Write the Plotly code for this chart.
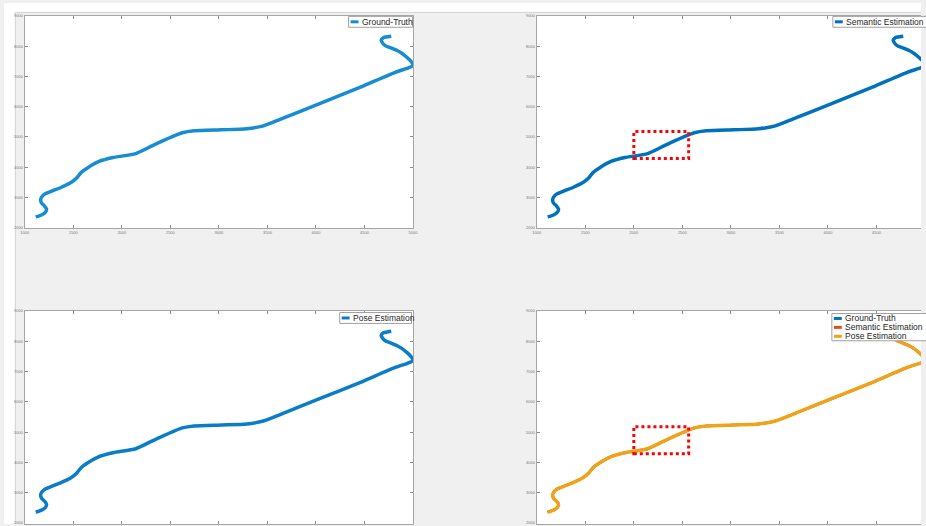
import plotly.graph_objects as go

W, H = 926, 526

# ---- data ----
gt_x = [1112, 1173, 1214, 1224, 1204, 1173, 1163, 1173, 1204, 1276, 1378, 1480, 1531, 1582, 1653,
        1765, 1908, 2143, 2316, 2520, 2622, 2745, 3031, 3286, 3459, 3643, 4051, 4459, 4816, 4939,
        4990, 5000, 4980, 4939, 4888, 4837, 4765, 4714, 4684, 4673, 4694, 4745, 4776]
gt_y = [2360, 2425, 2523, 2621, 2720, 2818, 2916, 3014, 3112, 3210, 3341, 3505, 3636, 3832, 3995,
        4192, 4322, 4453, 4715, 5009, 5140, 5206, 5238, 5271, 5369, 5598, 6121, 6645, 7136, 7266,
        7340, 7400, 7495, 7626, 7757, 7855, 7953, 8019, 8117, 8199, 8280, 8313, 8330]
sem_x = list(gt_x)
sem_y = list(gt_y)
pose_x = list(gt_x)
pose_y = list(gt_y)

x_ticks = [1000, 1500, 2000, 2500, 3000, 3500, 4000, 4500, 5000]
y_ticks = [2000, 3000, 4000, 5000, 6000, 7000, 8000, 9000]
zoom_box_x = [2000, 2565]
zoom_box_y = [4290, 5180]

names = ["Ground-Truth", "Semantic Estimation", "Pose Estimation"]


def px(x):
    return x / W


def py(y):
    return 1 - y / H


fig = go.Figure()

LW = 3.5
fig.add_trace(go.Scatter(x=gt_x, y=gt_y, mode="lines", name=names[0], xaxis="x", yaxis="y",
                         line=dict(color="#168CD2", width=LW, shape="spline", smoothing=0.6)))
fig.add_trace(go.Scatter(x=sem_x, y=sem_y, mode="lines", name=names[1], xaxis="x2", yaxis="y2",
                         line=dict(color="#0072BD", width=LW, shape="spline", smoothing=0.6)))
fig.add_trace(go.Scatter(x=pose_x, y=pose_y, mode="lines", name=names[2], xaxis="x3", yaxis="y3",
                         line=dict(color="#0A7DC8", width=LW, shape="spline", smoothing=0.6)))
fig.add_trace(go.Scatter(x=gt_x, y=gt_y, mode="lines", name=names[0], xaxis="x4", yaxis="y4",
                         line=dict(color="#0072BD", width=2.5, shape="spline", smoothing=0.6)))
fig.add_trace(go.Scatter(x=sem_x, y=sem_y, mode="lines", name=names[1], xaxis="x4", yaxis="y4",
                         line=dict(color="#D95319", width=2.5, shape="spline", smoothing=0.6)))
fig.add_trace(go.Scatter(x=pose_x, y=pose_y, mode="lines", name=names[2], xaxis="x4", yaxis="y4",
                         line=dict(color="#F0A31A", width=LW, shape="spline", smoothing=0.6)))

axis_common = dict(showgrid=False, zeroline=False, showline=True, linecolor="#a6a6a6", linewidth=1,
                   ticks="inside", ticklen=3, tickcolor="#8a8a8a", tickwidth=1,
                   tickfont=dict(size=4, color="#777777", family="Liberation Sans"))

right_xmax = 1000 + (W - 538) / 392 * 4000
bottom_ymin = 9000 - (H - 311) * 7000 / 214

lay = {}
lay["xaxis"] = dict(axis_common, domain=[px(21), px(413)], range=[1000, 5000], anchor="y",
                    tickvals=x_ticks, mirror="ticks")
lay["yaxis"] = dict(axis_common, domain=[py(227), py(13)], range=[2000, 9000], anchor="x",
                    tickvals=y_ticks, mirror="ticks")
lay["xaxis2"] = dict(axis_common, domain=[px(538), 1], range=[1000, right_xmax], anchor="y2",
                     tickvals=x_ticks, mirror="ticks")
lay["yaxis2"] = dict(axis_common, domain=[py(227), py(13)], range=[2000, 9000], anchor="x2",
                     tickvals=y_ticks, mirror=False)
lay["xaxis3"] = dict(axis_common, domain=[px(21), px(413)], range=[1000, 5000], anchor="y3",
                     tickvals=x_ticks, mirror="ticks", showticklabels=False)
lay["yaxis3"] = dict(axis_common, domain=[0, py(311)], range=[bottom_ymin, 9000], anchor="x3",
                     tickvals=y_ticks, mirror="ticks")
lay["xaxis4"] = dict(axis_common, domain=[px(538), 1], range=[1000, right_xmax], anchor="y4",
                     tickvals=x_ticks, mirror="ticks", showticklabels=False)
lay["yaxis4"] = dict(axis_common, domain=[0, py(311)], range=[bottom_ymin, 9000], anchor="x4",
                     tickvals=y_ticks, mirror=False)

shapes = []
shapes.append(dict(type="rect", xref="paper", yref="paper", x0=0, x1=1, y0=py(9), y1=1,
                   fillcolor="white", line=dict(width=0), layer="below"))
shapes.append(dict(type="rect", xref="paper", yref="paper", x0=0, x1=px(11), y0=0, y1=1,
                   fillcolor="white", line=dict(width=0), layer="below"))
shapes.append(dict(type="line", xref="paper", yref="paper", x0=px(11), x1=1, y0=py(9.5), y1=py(9.5),
                   line=dict(color="#d4d4d4", width=1), layer="below"))
shapes.append(dict(type="line", xref="paper", yref="paper", x0=px(11.5), x1=px(11.5), y0=0, y1=py(9.5),
                   line=dict(color="#d4d4d4", width=1), layer="below"))

for xa, ya in [("x2", "y2"), ("x4", "y4")]:
    shapes.append(dict(type="rect", xref=xa, yref=ya, x0=zoom_box_x[0], x1=zoom_box_x[1],
                       y0=zoom_box_y[0], y1=zoom_box_y[1],
                       line=dict(color="#FF0000", width=3, dash="dot"), fillcolor="rgba(0,0,0,0)"))

annotations = []


def legend_box(x0, y0, x1, y1, entries):
    shapes.append(dict(type="rect", xref="paper", yref="paper", x0=px(x0), x1=px(x1), y0=py(y1), y1=py(y0),
                       fillcolor="white", line=dict(color="#a0a0a0", width=1), layer="above"))
    for (yy, color, text) in entries:
        shapes.append(dict(type="line", xref="paper", yref="paper", x0=px(x0 + 2), x1=px(x0 + 10),
                           y0=py(yy), y1=py(yy), line=dict(color=color, width=3), layer="above"))
        annotations.append(dict(xref="paper", yref="paper", x=px(x0 + 11), y=py(yy), xanchor="left",
                                yanchor="middle", text=text, showarrow=False,
                                font=dict(size=8.5, color="#262626", family="Liberation Sans")))


legend_box(348, 13.5, 412.5, 24.5, [(19, "#168CD2", names[0])])
legend_box(837, 13.5, 935, 24.5, [(19, "#0072BD", names[1])])
legend_box(339, 312.5, 411.5, 323.5, [(318, "#0A7DC8", names[2])])
legend_box(836, 313.5, 935, 341, [(318.5, "#0072BD", names[0]), (327.5, "#D95319", names[1]),
                                  (336.5, "#F0A31A", names[2])])

fig.update_layout(
    width=W, height=H, margin=dict(l=0, r=0, t=0, b=0),
    paper_bgcolor="#f0f0f0", plot_bgcolor="white", showlegend=False,
    shapes=shapes, annotations=annotations,
    font=dict(family="Liberation Sans"),
    **lay,
)

fig.write_html("out.html", config={"displayModeBar": False},
               post_script="document.body.style.margin='0';document.body.style.padding='0';"
                           "document.body.style.overflow='hidden';")
